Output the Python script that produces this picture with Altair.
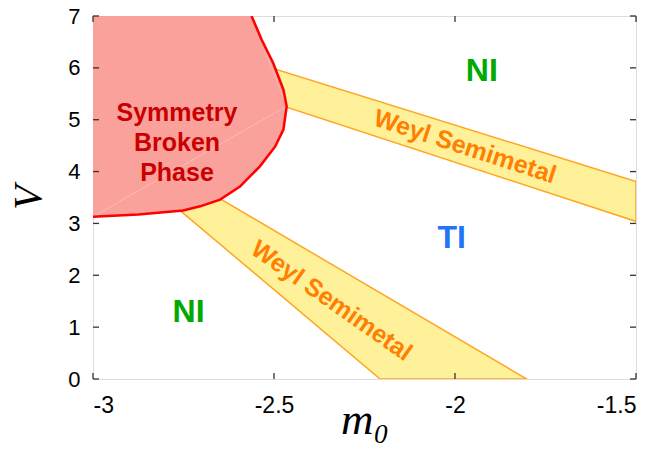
import altair as alt
import pandas as pd

# Symmetry-broken phase boundary (m0, V)
red_x = [-3.0, -2.875, -2.751, -2.704, -2.649, -2.594, -2.539, -2.497, -2.474, -2.465, -2.474, -2.502, -2.534, -2.562]
red_v = [3.13, 3.17, 3.25, 3.33, 3.46, 3.71, 4.10, 4.48, 4.81, 5.26, 5.58, 6.09, 6.54, 7.0]

# Upper Weyl semimetal band polygon
ub_x = [-2.60, -1.5, -1.5, -2.60]
ub_v = [6.20, 3.81, 3.04, 5.55]

# Lower Weyl semimetal band polygon
lb_x = [-2.728, -1.802, -2.207, -2.819]
lb_v = [3.80, 0.0, 0.0, 3.60]

# Region labels
lab_text = ["NI", "NI", "TI", "Weyl Semimetal", "Weyl Semimetal"]
lab_x = [-1.926, -2.736, -2.009, -1.972, -2.341]
lab_v = [5.93, 1.30, 2.72, 4.48, 1.51]
lab_angle = [0, 0, 0, 18, 35]
lab_size = [32, 32, 32, 25, 25]
lab_color = ["#00aa00", "#00aa00", "#2375f5", "#ff7f00", "#ff7f00"]

sbp_text = ["Symmetry\nBroken\nPhase"]
sbp_x = [-2.768]
sbp_v = [5.135]

x_ticks = [-3, -2.5, -2, -1.5]
y_ticks = [0, 1, 2, 3, 4, 5, 6, 7]

W, H = 543, 363
xs = alt.Scale(domain=[-3, -1.5], nice=False, zero=False)
ys = alt.Scale(domain=[0, 7], nice=False, zero=False)

xaxis = alt.Axis(values=x_ticks, title="m₀", labelExpr="datum.value", domain=False, ticks=False, grid=False,
                 labelFont="Liberation Sans", labelFontSize=23, labelColor="black", labelPadding=15,
                 titleFont="Liberation Serif", titleFontStyle="italic", titleFontWeight="normal",
                 titleFontSize=45, titleColor="black", titleY=54, titleBaseline="alphabetic")
yaxis = alt.Axis(values=y_ticks, title="V", labelExpr="datum.value", domain=False, ticks=False, grid=False,
                 labelFont="Liberation Sans", labelFontSize=22, labelColor="black", labelPadding=13,
                 titleFont="Liberation Serif", titleFontStyle="italic", titleFontWeight="normal",
                 titleFontSize=40, titleColor="black", titleX=-65, titleY=181, titleAngle=-90,
                 titleBaseline="middle", titleAlign="center")

def poly(xv, vv):
    return pd.DataFrame({"m0": xv, "V": vv, "o": list(range(len(xv)))})

ub = alt.Chart(poly(ub_x, ub_v)).mark_line(fill="#fff19a", stroke="#ffa51f", strokeWidth=1.5, clip=True).encode(
    x=alt.X("m0:Q", scale=xs, axis=xaxis), y=alt.Y("V:Q", scale=ys, axis=yaxis), order="o:Q")
lb = alt.Chart(poly(lb_x, lb_v)).mark_line(fill="#fff19a", stroke="#ffa51f", strokeWidth=1.5, clip=True).encode(
    x=alt.X("m0:Q", scale=xs), y=alt.Y("V:Q", scale=ys), order="o:Q")

red_poly_x = red_x + [-3.0]
red_poly_v = red_v + [7.0]
redfill = alt.Chart(poly(red_poly_x, red_poly_v)).mark_line(fill="#faa19b", strokeWidth=0, clip=True).encode(
    x=alt.X("m0:Q", scale=xs), y=alt.Y("V:Q", scale=ys), order="o:Q")

faint = alt.Chart(poly([red_x[0], red_x[9], red_x[-1]], [red_v[0], red_v[9], red_v[-1]])).mark_line(
    color="white", strokeWidth=0.8, opacity=0.35, clip=True).encode(
    x=alt.X("m0:Q", scale=xs), y=alt.Y("V:Q", scale=ys), order="o:Q")

redline = alt.Chart(poly(red_x, red_v)).mark_line(color="#ff0000", strokeWidth=2.5, clip=True).encode(
    x=alt.X("m0:Q", scale=xs), y=alt.Y("V:Q", scale=ys), order="o:Q")

labdf = pd.DataFrame({"t": lab_text, "m0": lab_x, "V": lab_v, "a": lab_angle, "s": lab_size, "c": lab_color})
labels = alt.Chart(labdf).mark_text(font="Liberation Sans", fontWeight="bold", baseline="middle", align="center").encode(
    x=alt.X("m0:Q", scale=xs), y=alt.Y("V:Q", scale=ys), text="t:N",
    angle=alt.Angle("a:Q", scale=None), size=alt.Size("s:Q", scale=None), color=alt.Color("c:N", scale=None))

sbp = alt.Chart(pd.DataFrame({"t": sbp_text, "m0": sbp_x, "V": sbp_v})).mark_text(
    font="Liberation Sans", fontWeight="bold", fontSize=25, lineHeight=30, lineBreak="\n",
    color="#c80000", baseline="middle", align="center").encode(
    x=alt.X("m0:Q", scale=xs), y=alt.Y("V:Q", scale=ys), text="t:N")

tcol = "#333333"
xt = pd.DataFrame({"m0": x_ticks})
yt = pd.DataFrame({"V": y_ticks})
tb = alt.Chart(xt).mark_rule(color=tcol, strokeWidth=1.3).encode(x=alt.X("m0:Q", scale=xs), y=alt.value(H), y2=alt.value(H - 6))
tt = alt.Chart(xt).mark_rule(color=tcol, strokeWidth=1.3).encode(x=alt.X("m0:Q", scale=xs), y=alt.value(0), y2=alt.value(6))
tl = alt.Chart(yt).mark_rule(color=tcol, strokeWidth=1.3).encode(y=alt.Y("V:Q", scale=ys), x=alt.value(0), x2=alt.value(6))
tr = alt.Chart(yt).mark_rule(color=tcol, strokeWidth=1.3).encode(y=alt.Y("V:Q", scale=ys), x=alt.value(W), x2=alt.value(W - 6))

chart = alt.layer(ub, lb, redfill, faint, redline, labels, sbp, tb, tt, tl, tr).properties(
    width=W, height=H, autosize="none",
    padding={"left": 85, "top": 8, "right": 14, "bottom": 67},
).configure_view(stroke="#2a2a2a", strokeWidth=1.6).configure(background="white")

chart.save("out.html", embed_options={"renderer": "svg", "actions": False})
